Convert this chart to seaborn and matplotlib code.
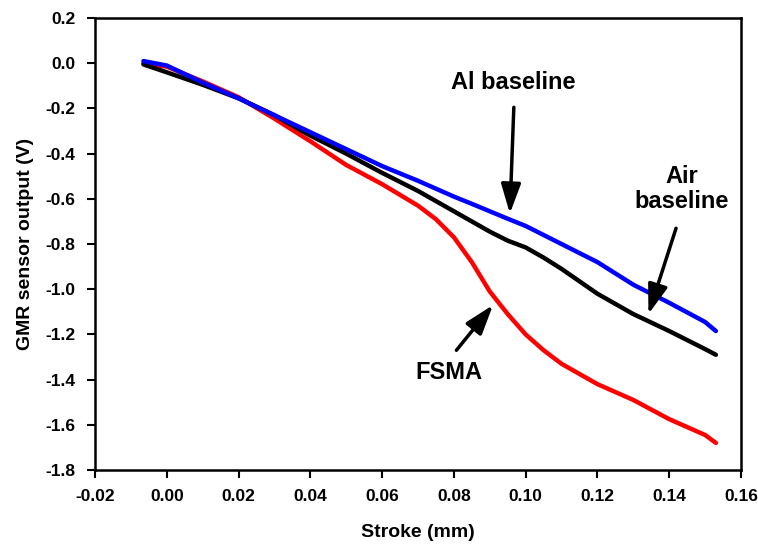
import pandas as pd
import matplotlib
matplotlib.use("Agg")
import matplotlib.pyplot as plt
import seaborn as sns

# stroke positions (mm)
stroke = [-0.0065, 0.0, 0.01, 0.02, 0.03, 0.04, 0.05, 0.06, 0.07, 0.075, 0.08,
          0.085, 0.09, 0.095, 0.10, 0.105, 0.11, 0.12, 0.13, 0.14, 0.15, 0.153]

# GMR sensor output (V)
fsma = [0.0, -0.015, -0.08, -0.15, -0.245, -0.345, -0.45, -0.535, -0.63, -0.69, -0.77,
        -0.88, -1.01, -1.11, -1.20, -1.27, -1.33, -1.42, -1.49, -1.575, -1.645, -1.68]
air_baseline = [-0.005, -0.04, -0.095, -0.155, -0.23, -0.32, -0.40, -0.485, -0.565, -0.61, -0.655,
                -0.70, -0.745, -0.785, -0.815, -0.86, -0.91, -1.02, -1.11, -1.185, -1.265, -1.29]
al_baseline = [0.01, -0.01, -0.085, -0.155, -0.23, -0.305, -0.38, -0.455, -0.52, -0.555, -0.59,
               -0.622, -0.655, -0.688, -0.72, -0.76, -0.80, -0.88, -0.98, -1.06, -1.145, -1.185]

series_names = ["FSMA", "Air baseline", "Al baseline"]
series_colors = ["#FF0000", "#000000", "#0000FF"]

df = pd.concat([
    pd.DataFrame({"stroke": stroke, "output": vals, "series": name})
    for name, vals in zip(series_names, [fsma, air_baseline, al_baseline])
])

sns.set_style("ticks")
plt.rcParams["font.family"] = ["Liberation Sans", "DejaVu Sans"]
plt.rcParams["text.color"] = "black"
plt.rcParams["axes.labelcolor"] = "black"
plt.rcParams["xtick.color"] = "black"
plt.rcParams["ytick.color"] = "black"

fig, ax = plt.subplots(figsize=(7.58, 5.48), dpi=100)
fig.subplots_adjust(left=0.1253, right=0.9776, top=0.967, bottom=0.1423)

sns.lineplot(data=df, x="stroke", y="output", hue="series", hue_order=series_names,
             palette=series_colors, linewidth=3.2, sort=False, legend=False, ax=ax)

ax.set_xlim(-0.02, 0.16)
ax.set_ylim(-1.8, 0.2)
ax.set_xticks([-0.02 + 0.02 * i for i in range(10)])
ax.set_yticks([-1.8 + 0.2 * i for i in range(11)])
ax.set_xticklabels([f"{-0.02 + 0.02 * i:.2f}" for i in range(10)], fontsize=12.5, fontweight="bold")
ax.set_yticklabels([f"{-1.8 + 0.2 * i:.1f}" for i in range(11)], fontsize=12.5, fontweight="bold")
ax.tick_params(direction="out", length=6, width=1.5, color="black", pad=8)
for sp in ax.spines.values():
    sp.set_visible(True)
    sp.set_linewidth(1.8)
    sp.set_color("black")

ax.set_xlabel("Stroke (mm)", fontsize=14, fontweight="bold", labelpad=14)
ax.set_ylabel("GMR sensor output (V)", fontsize=14, fontweight="bold", labelpad=8)

arrow = dict(arrowstyle="-|>,head_length=0.9,head_width=0.3", color="black",
             lw=2.5, mutation_scale=20, shrinkA=0, shrinkB=0)

ax.text(0.0964, -0.084, "Al baseline", ha="center", va="center", fontsize=17, fontweight="bold")
ax.annotate("", xy=(0.0956, -0.665), xytext=(0.0967, -0.195), arrowprops=arrow)

ax.text(0.1435, -0.555, "Air\nbaseline", ha="center", va="center", fontsize=17,
        fontweight="bold", linespacing=1.1)
ax.annotate("", xy=(0.1342, -1.11), xytext=(0.1419, -0.73), arrowprops=arrow)

ax.text(0.0785, -1.367, "FSMA", ha="center", va="center", fontsize=17, fontweight="bold")
ax.annotate("", xy=(0.0909, -1.07), xytext=(0.0807, -1.27), arrowprops=arrow)

fig.savefig("out.png", dpi=100)
